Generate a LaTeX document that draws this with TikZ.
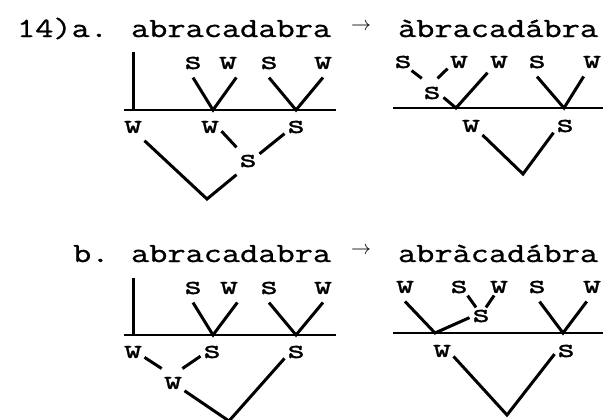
\documentclass[tikz,border=0pt]{standalone}
\usepackage{fontspec}
\newfontfamily\typer{Latin Modern Mono}[FakeStretch=1.27, FakeBold=1]

\begin{document}
\begin{tikzpicture}[
  x=0.5pt, y=-0.5pt,
  font=\typer\fontsize{13.9}{16}\selectfont,
  lab/.style={inner xsep=1pt, inner ysep=4pt},
  labt/.style={inner xsep=1pt, inner ysep=1pt},
  branch/.style={line width=1.5pt},
  rule/.style={line width=1.1pt},
  arrowtxt/.style={font=\fontsize{10}{12}\selectfont, inner sep=0pt},
  ]
  \useasboundingbox (0,0) rectangle (605,419);

  % --- (14a) headline ---
  \node[anchor=base west] (numa) at (10,37) {14)a.};
  \node[anchor=base west] (worda) at (124,37) {abracadabra};
  \node[arrowtxt] (arra) at (361,27) {$\rightarrow$};
  \node[anchor=base west] (outa) at (391,37) {àbracadábra};

  % --- (14a) left tree ---
  \coordinate (ta) at (133,52);
  \coordinate (ha) at (133,110);
  \coordinate (la) at (124,110);
  \coordinate (ra) at (336,110);
  \coordinate (va1) at (213,110);
  \coordinate (va2) at (296,110);
  \coordinate (da) at (207,199);
  \node[lab] (sa1) at (193,63) {s};
  \node[lab] (wa1) at (228,63) {w};
  \node[lab] (sa2) at (269,63) {s};
  \node[lab] (wa2) at (323,63) {w};
  \node[lab] (wa3) at (133,127) {w};
  \node[lab] (wa4) at (210,127) {w};
  \node[lab] (sa3) at (296,127) {s};
  \node[lab] (sa4) at (248,161) {s};
  \draw[rule] (la) -- (ra);
  \draw[branch] (ta) -- (ha);
  \draw[branch] (sa1.south) -- (va1) -- (wa1.-60);
  \draw[branch] (sa2.south) -- (va2) -- (wa2.south);
  \draw[branch] (wa4.-20) -- (sa4.130);
  \draw[branch] (sa4.32) -- (sa3.-150);
  \draw[branch] (wa3.-50) -- (da) -- (sa4.-130);

  % --- (14a) right tree ---
  \coordinate (lb) at (393,108);
  \coordinate (rb) at (603,108);
  \coordinate (vb1) at (456,108);
  \coordinate (vb2) at (564,108);
  \coordinate (db) at (523,174);
  \node[labt] (sb1) at (403,62) {s};
  \node[labt] (wb1) at (459,62) {w};
  \node[lab] (wb2) at (499,62) {w};
  \node[lab] (sb2) at (537,62) {s};
  \node[lab] (wb3) at (592,62) {w};
  \node[lab] (sb3) at (432,93) {s};
  \node[lab] (wb4) at (471,126) {w};
  \node[lab] (sb4) at (565,126) {s};
  \draw[rule] (lb) -- (rb);
  \draw[branch] (sb1.-45) -- (sb3.125);
  \draw[branch] (wb1.-150) -- (sb3.69);
  \draw[branch] (sb3.-21) -- (vb1) -- (wb2.-137);
  \draw[branch] (sb2.south) -- (vb2) -- (wb3.-120);
  \draw[branch] (wb4.-38) -- (db) -- (sb4.-150);

  % --- (14b) headline ---
  \node[anchor=base west] (numb) at (66,262) {b.};
  \node[anchor=base west] (wordb) at (124,262) {abracadabra};
  \node[arrowtxt] (arrb) at (361,251) {$\rightarrow$};
  \node[anchor=base west] (outb) at (391,262) {abràcadábra};

  % --- (14b) left tree ---
  \coordinate (tc) at (133,278);
  \coordinate (hc) at (133,335);
  \coordinate (lc) at (124,335);
  \coordinate (rc) at (336,335);
  \coordinate (vc1) at (213,335);
  \coordinate (vc2) at (296,335);
  \coordinate (dc) at (229,421);
  \node[lab] (sc1) at (193,288) {s};
  \node[lab] (wc1) at (229,288) {w};
  \node[lab] (sc2) at (269,288) {s};
  \node[lab] (wc2) at (323,288) {w};
  \node[lab] (wc3) at (133,352) {w};
  \node[lab] (sc3) at (212,352) {s};
  \node[lab] (sc4) at (296,352) {s};
  \node[lab] (wc4) at (173,383) {w};
  \draw[rule] (lc) -- (rc);
  \draw[branch] (tc) -- (hc);
  \draw[branch] (sc1.south) -- (vc1) -- (wc1.-60);
  \draw[branch] (sc2.south) -- (vc2) -- (wc2.south);
  \draw[branch] (wc3.-25) -- (wc4.128);
  \draw[branch] (sc3.-160) -- (wc4.57);
  \draw[branch] (wc4.-34) -- (dc) -- (sc4.-151);

  % --- (14b) right tree ---
  \coordinate (ld) at (393,333);
  \coordinate (rd) at (603,333);
  \coordinate (vd1) at (435,333);
  \coordinate (vd2) at (563,333);
  \coordinate (dd) at (507,415);
  \node[lab] (wd1) at (405,287) {w};
  \node[labt] (sd1) at (459,287) {s};
  \node[labt] (wd2) at (499,287) {w};
  \node[lab] (sd2) at (537,287) {s};
  \node[lab] (wd3) at (592,287) {w};
  \node[labt] (sd3) at (481,316) {s};
  \node[lab] (wd4) at (442,351) {w};
  \node[lab] (sd4) at (566,351) {s};
  \draw[rule] (ld) -- (rd);
  \draw[branch] (wd1.south) -- (vd1) -- (sd3.-172);
  \draw[branch] (sd1.-45) -- (sd3.120);
  \draw[branch] (wd2.-120) -- (sd3.60);
  \draw[branch] (sd2.-80) -- (vd2) -- (wd3.-110);
  \draw[branch] (wd4.-25) -- (dd) -- (sd4.-165);
\end{tikzpicture}
\end{document}
